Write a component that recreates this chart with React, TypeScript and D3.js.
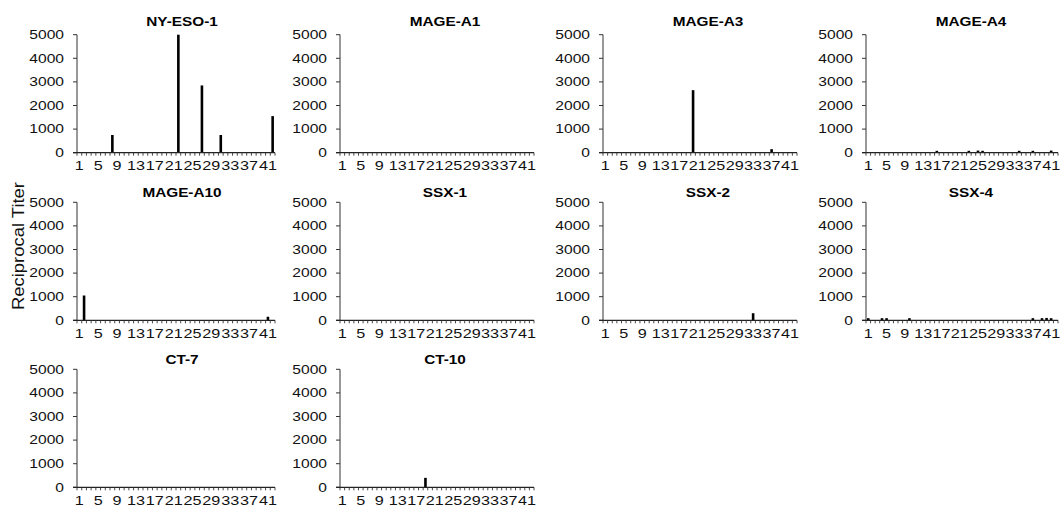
import React from "react";
import * as d3 from "d3";

// Patients 1..42
const patients = [
  1, 2, 3, 4, 5, 6, 7, 8, 9, 10, 11, 12, 13, 14, 15, 16, 17, 18, 19, 20, 21,
  22, 23, 24, 25, 26, 27, 28, 29, 30, 31, 32, 33, 34, 35, 36, 37, 38, 39, 40,
  41, 42,
];
const xTickLabels = [1, 5, 9, 13, 17, 21, 25, 29, 33, 37, 41];
const yTicks = [0, 1000, 2000, 3000, 4000, 5000];

const antigens = [
  "NY-ESO-1", "MAGE-A1", "MAGE-A3", "MAGE-A4",
  "MAGE-A10", "SSX-1", "SSX-2", "SSX-4",
  "CT-7", "CT-10",
];

const nyEso1 = [0,0,0,0,0,0,0,750,0,0, 0,0,0,0,0,0,0,0,0,0, 0,5000,0,0,0,0,2850,0,0,0, 750,0,0,0,0,0,0,0,0,0, 0,1550];
const mageA1 = [0,0,0,0,0,0,0,0,0,0, 0,0,0,0,0,0,0,0,0,0, 0,0,0,0,0,0,0,0,0,0, 0,0,0,0,0,0,0,0,0,0, 0,0];
const mageA3 = [0,0,0,0,0,0,0,0,0,0, 0,0,0,0,0,0,0,0,0,2650, 0,0,0,0,0,0,0,0,0,0, 0,0,0,0,0,0,150,0,0,0, 0,0];
const mageA4 = [0,0,0,0,0,0,0,0,0,0, 0,0,0,0,0,80,0,0,0,0, 0,0,80,0,90,80,0,0,0,0, 0,0,0,80,0,0,80,0,0,0, 90,0];
const mageA10 = [0,1050,0,0,0,0,0,0,0,0, 0,0,0,0,0,0,0,0,0,0, 0,0,0,0,0,0,0,0,0,0, 0,0,0,0,0,0,0,0,0,0, 150,0];
const ssx1 = [0,0,0,0,0,0,0,0,0,0, 0,0,0,0,0,0,0,0,0,0, 0,0,0,0,0,0,0,0,0,0, 0,0,0,0,0,0,0,0,0,0, 0,0];
const ssx2 = [0,0,0,0,0,0,0,0,0,0, 0,0,0,0,0,0,0,0,0,0, 0,0,0,0,0,0,0,0,0,0, 0,0,300,0,0,0,0,0,0,0, 0,0];
const ssx4 = [90,0,0,90,90,0,0,0,0,90, 0,0,0,0,0,0,0,0,0,0, 0,0,0,0,0,0,0,0,0,0, 0,0,0,0,0,0,90,0,90,100, 90,0];
const ct7 = [0,0,0,0,0,0,0,0,0,0, 0,0,0,0,0,0,0,0,0,0, 0,0,0,0,0,0,0,0,0,0, 0,0,0,0,0,0,0,0,0,0, 0,0];
const ct10 = [0,0,0,0,0,0,0,0,0,0, 0,0,0,0,0,0,0,0,400,0, 0,0,0,0,0,0,0,0,0,0, 0,0,0,0,0,0,0,0,0,0, 0,0];

const seriesList = [nyEso1, mageA1, mageA3, mageA4, mageA10, ssx1, ssx2, ssx4, ct7, ct10];

// layout
const colX = [77, 340, 603, 866];
const colW = [198, 194, 194, 192];
const rowTop = [34.7, 202.3, 369.3];
const rowTitleY = [26, 196.5, 364];
const plotH = 118;
const FONT = "'Liberation Sans', Arial, Helvetica, sans-serif";

function Panel({ idx }: { idx: number }) {
  const col = idx % 4;
  const row = Math.floor(idx / 4);
  const ax = colX[col];
  const w = colW[col];
  const top = rowTop[row];
  const bottom = top + plotH;
  const values = seriesList[idx];
  const x = d3.scaleBand<number>().domain(patients).range([ax, ax + w]).padding(0);
  const y = d3.scaleLinear().domain([0, 5000]).range([bottom, top]);
  const bw = x.bandwidth();
  const barW = 2.6;
  const tickXs = patients.map((p) => x(p) as number).concat([ax + w]);
  return (
    <g>
      <g transform={`translate(${ax + 105},${rowTitleY[row]}) scale(1.18,1)`}>
        <text textAnchor="middle" fontSize={13} fontWeight="bold" fontFamily={FONT} fill="#000">
          {antigens[idx]}
        </text>
      </g>
      {/* bars */}
      {values.map((v, i) =>
        v > 0 ? (
          <rect
            key={i}
            x={(x(patients[i]) as number) + bw / 2 - barW / 2}
            y={y(v)}
            width={barW}
            height={bottom - y(v)}
            fill="#000"
          />
        ) : null
      )}
      {/* y axis */}
      <line x1={ax} x2={ax} y1={top} y2={bottom} stroke="#333" strokeWidth={1} />
      {yTicks.map((t) => (
        <g key={t}>
          <line x1={ax - 4} x2={ax} y1={y(t)} y2={y(t)} stroke="#333" strokeWidth={1} />
          <g transform={`translate(${ax - 13},${y(t)}) scale(1.3,1)`}>
            <text textAnchor="end" dominantBaseline="central" fontSize={12} fontFamily={FONT} fill="#111">
              {t}
            </text>
          </g>
        </g>
      ))}
      {/* x axis */}
      <line x1={ax - 4} x2={ax + w} y1={bottom} y2={bottom} stroke="#222" strokeWidth={1.2} />
      {tickXs.map((tx, i) => (
        <line key={i} x1={tx} x2={tx} y1={bottom} y2={bottom + 3} stroke="#333" strokeWidth={0.9} />
      ))}
      {xTickLabels.map((p) => (
        <g key={p} transform={`translate(${(x(p) as number) + bw / 2},${bottom + 17.5}) scale(1.35,1)`}>
          <text textAnchor="middle" fontSize={12} fontFamily={FONT} fill="#111">
            {p}
          </text>
        </g>
      ))}
    </g>
  );
}

export default function App() {
  return (
    <svg
      width={1060}
      height={508}
      style={{ position: "absolute", left: 0, top: 0, background: "#fff" }}
    >
      <rect x={0} y={0} width={1060} height={508} fill="#fff" />
      {antigens.map((_, i) => (
        <Panel key={i} idx={i} />
      ))}
      <g transform="translate(24,246) rotate(-90)">
        <text
          textAnchor="middle"
          fontSize={16}
          fontFamily={FONT}
          fill="#111"
          textLength={128}
          lengthAdjust="spacingAndGlyphs"
        >
          Reciprocal Titer
        </text>
      </g>
    </svg>
  );
}
